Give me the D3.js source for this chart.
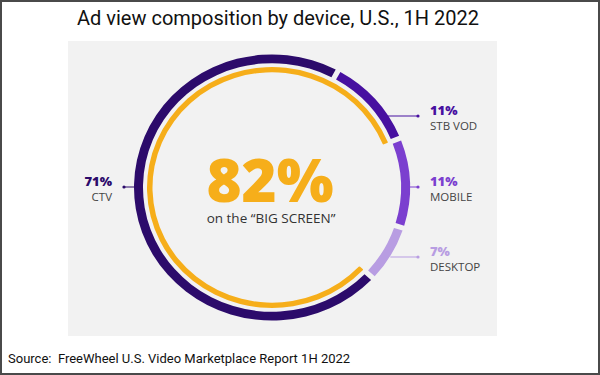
<!DOCTYPE html>
<html>
<head>
<meta charset="utf-8">
<script src="https://cdn.jsdelivr.net/npm/d3@7"></script>
<style>
  body { margin: 0; background: #fff; }
  svg { display: block; }
</style>
</head>
<body>
<div id="chart"></div>
<script>
// data
const devices = ["CTV", "STB VOD", "MOBILE", "DESKTOP"];
const shares = [71, 11, 11, 7];
const colors = ["#2c0b6b", "#4710a0", "#7b3fcf", "#b89de2"];
const bigScreen = 82; // CTV + STB VOD
const titleText = "Ad view composition by device, U.S., 1H 2022";
const sourceText = "Source:  FreeWheel U.S. Video Marketplace Report 1H 2022";

const width = 600, height = 375;
const cx = 272, cy = 187.5;
const rx = 138, ry = 133; // outer radii of the (slightly squashed) ring
const startDeg = 133;

const svg = d3.select("#chart").append("svg")
    .attr("width", width)
    .attr("height", height)
    .attr("viewBox", [0, 0, width, height]);

// frame
svg.append("rect")
    .attr("x", 1).attr("y", 1)
    .attr("width", width - 2).attr("height", height - 2)
    .attr("fill", "#fff")
    .attr("stroke", "#4a4a4a")
    .attr("stroke-width", 2);

// grey panel
svg.append("rect")
    .attr("x", 68).attr("y", 41)
    .attr("width", 429).attr("height", 295)
    .attr("fill", "#f2f2f2");

svg.append("text")
    .attr("x", 278).attr("y", 25)
    .attr("text-anchor", "middle")
    .attr("font-family", "Roboto, sans-serif")
    .attr("font-size", 20)
    .attr("fill", "#111")
    .text(titleText);

svg.append("text")
    .attr("x", 8).attr("y", 363)
    .attr("font-family", "Roboto, sans-serif")
    .attr("font-size", 13)
    .attr("fill", "#111")
    .style("white-space", "pre")
    .text(sourceText);

const start = startDeg * Math.PI / 180;
const pie = d3.pie().sort(null).startAngle(start).endAngle(start + 2 * Math.PI);
const arcs = pie(shares);

const ring = svg.append("g")
    .attr("transform", `translate(${cx},${cy}) scale(1,${ry / rx})`);

const arc = d3.arc().innerRadius(rx - 9).outerRadius(rx).padAngle(0.028);
ring.selectAll("path.seg")
  .data(arcs)
  .join("path")
    .attr("class", "seg")
    .attr("d", arc)
    .attr("fill", (d, i) => colors[i]);

// inner yellow ring for the big screen share
const yArc = d3.arc().innerRadius(rx - 18.5).outerRadius(rx - 13).cornerRadius(1);
ring.append("path")
    .attr("d", yArc({startAngle: start, endAngle: start + bigScreen / 100 * 2 * Math.PI}))
    .attr("fill", "#f6ae1a");

// centre text
svg.append("text")
    .attr("x", 270).attr("y", 202)
    .attr("text-anchor", "middle")
    .attr("font-family", "'Open Sans', sans-serif")
    .attr("font-weight", 800)
    .attr("font-size", 60)
    .attr("fill", "#f6ae1a")
    .text(bigScreen + "%");

svg.append("text")
    .attr("x", 271).attr("y", 223)
    .attr("text-anchor", "middle")
    .attr("font-family", "'Open Sans', sans-serif")
    .attr("font-size", 13.5)
    .attr("fill", "#333")
    .text("on the \u201CBIG SCREEN\u201D");

// labels with leader lines
const labelY = [186, 115, 186, 256];
const sides = [-1, 1, 1, 1];
const dotX = [124, 418, 418, 418];
const textX = [112, 430, 430, 430];

devices.forEach((name, i) => {
  const y = labelY[i];
  const dy = (y - cy) / ry;
  const edgeX = cx + sides[i] * rx * Math.sqrt(Math.max(0, 1 - dy * dy));
  const g = svg.append("g");
  g.append("line")
      .attr("x1", edgeX).attr("x2", dotX[i])
      .attr("y1", y + 1).attr("y2", y + 1)
      .attr("stroke", colors[i])
      .attr("stroke-width", 1);
  g.append("circle")
      .attr("cx", dotX[i]).attr("cy", y + 1).attr("r", 1.6)
      .attr("fill", colors[i]);
  const anchor = sides[i] < 0 ? "end" : "start";
  g.append("text")
      .attr("x", textX[i]).attr("y", y)
      .attr("text-anchor", anchor)
      .attr("font-family", "'Open Sans', sans-serif")
      .attr("font-weight", 800)
      .attr("font-size", 13)
      .attr("fill", colors[i])
      .text(shares[i] + "%");
  g.append("text")
      .attr("x", textX[i]).attr("y", y + 15)
      .attr("text-anchor", anchor)
      .attr("font-family", "'Open Sans', sans-serif")
      .attr("font-size", 11.5)
      .attr("fill", "#444")
      .text(name);
});
</script>
</body>
</html>
